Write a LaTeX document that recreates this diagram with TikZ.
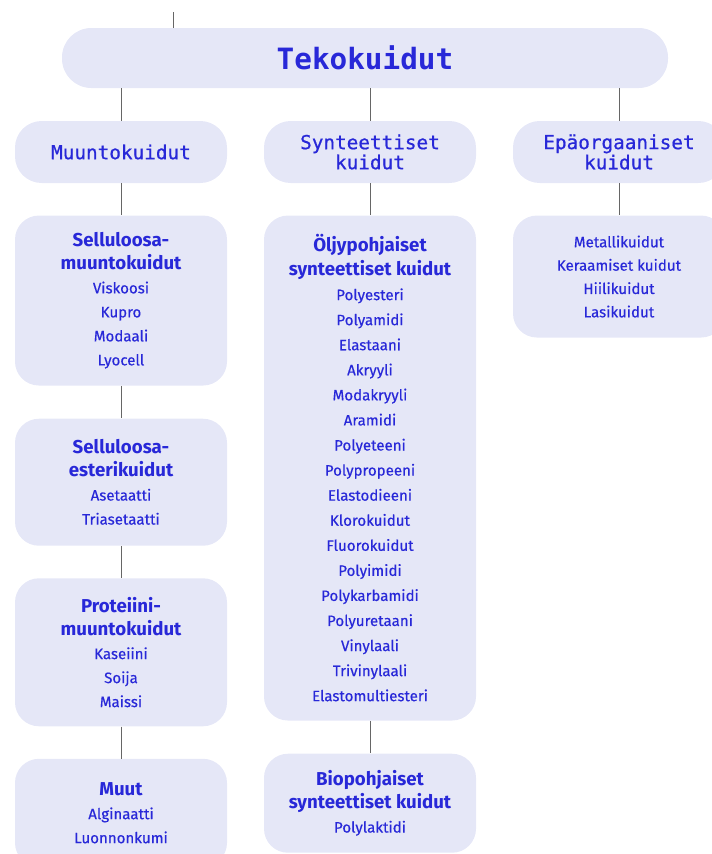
\documentclass[tikz,border=0pt]{standalone}
\usepackage{fontspec}
\setmainfont{Fira Sans}[FakeBold=0.4,BoldFont=Fira Sans Bold,BoldFeatures={FakeBold=0}]
\setmonofont{DejaVu Sans Mono}[FakeBold=0.7,BoldFont=DejaVu Sans Mono Bold,BoldFeatures={FakeBold=0}]
\usetikzlibrary{positioning}
\definecolor{kuitupohja}{HTML}{E5E7F7}
\definecolor{kuituteksti}{HTML}{2828D8}
\definecolor{viiva}{HTML}{666666}
\newcommand{\otsikko}[1]{{\fontsize{14}{18}\selectfont\bfseries #1}}
\tikzset{top node/.style={rounded corners=22pt,fill=kuitupohja,text=kuituteksti,minimum width=454.5pt,minimum height=45pt,inner sep=0pt,font=\ttfamily\bfseries\fontsize{22}{24}\selectfont},
group node/.style={rounded corners=20pt,fill=kuitupohja,text=kuituteksti,minimum width=159pt,minimum height=46.5pt,inner sep=0pt,align=center,font=\ttfamily\fontsize{14.5}{13.5}\selectfont},
list node/.style={rounded corners=18pt,fill=kuitupohja,text=kuituteksti,minimum width=159pt,inner sep=0pt,align=center,font=\fontsize{11.3}{18}\selectfont},
yhteys/.style={draw=viiva,line width=0.75pt},
}

\begin{document}
\begin{tikzpicture}[node distance=24.5pt]
				\useasboundingbox (0,0) rectangle (534pt,-640.5pt);
				\coordinate (ylos) at (130pt,-9pt);
				\node[top node] (teko) at (273.75pt,-43.5pt) {Tekokuidut};
				
				\node[group node] (muunto) at (90.75pt,-114pt) {Muuntokuidut};
				\node[group node] (synt) at (277.5pt,-114pt) {Synteettiset\\kuidut};
				\node[group node] (epaorg) at (464.25pt,-114pt) {Epäorgaaniset\\kuidut};
				
				\node[list node,minimum height=127.5pt] (selmuunto) [below=24pt of muunto] {\otsikko{Selluloosa-}\\[-1pt]\otsikko{muuntokuidut}\\Viskoosi\\Kupro\\Modaali\\Lyocell};
				\node[list node,minimum height=95.25pt] (selester) [below=of selmuunto] {\otsikko{Selluloosa-}\\[-1pt]\otsikko{esterikuidut}\\Asetaatti\\Triasetaatti};
				\node[list node,minimum height=111pt] (proteiini) [below=24pt of selester] {\otsikko{Proteiini-}\\[-1pt]\otsikko{muuntokuidut}\\Kaseiini\\Soija\\Maissi};
				\node[list node,minimum height=81pt] (muut) [below=24pt of proteiini] {\otsikko{Muut}\\Alginaatti\\Luonnonkumi};
				
				\node[list node,minimum height=378.75pt,font=\fontsize{11.3}{18.8}\selectfont] (oljy) [below=24pt of synt] {\otsikko{Öljypohjaiset}\\[-1.5pt]\otsikko{synteettiset kuidut}\\Polyesteri\\Polyamidi\\Elastaani\\Akryyli\\Modakryyli\\Aramidi\\Polyeteeni\\Polypropeeni\\Elastodieeni\\Klorokuidut\\Fluorokuidut\\Polyimidi\\Polykarbamidi\\Polyuretaani\\Vinylaali\\Trivinylaali\\Elastomultiesteri};
				\node[list node,minimum height=74.25pt] (bio) [below=of oljy] {\otsikko{Biopohjaiset}\\[-1pt]\otsikko{synteettiset kuidut}\\Polylaktidi};
				
				\node[list node,minimum height=91.5pt,font=\fontsize{11.3}{17.5}\selectfont] (epaorgkuidut) [below=24pt of epaorg] {Metallikuidut\\Keraamiset kuidut\\Hiilikuidut\\Lasikuidut};
				
				\path[yhteys]
				(ylos) edge (ylos |- teko.north)
				(muunto.north |- teko.south) edge (muunto)
				(synt.north |- teko.south) edge (synt)
				(epaorg.north |- teko.south) edge (epaorg)
				(muunto) edge (selmuunto)
				(selmuunto) edge (selester)
				(selester) edge (proteiini)
				(proteiini) edge (muut)
				(synt) edge (oljy)
				(oljy) edge (bio)
				(epaorg) edge (epaorgkuidut);
				
			\end{tikzpicture}
\end{document}
